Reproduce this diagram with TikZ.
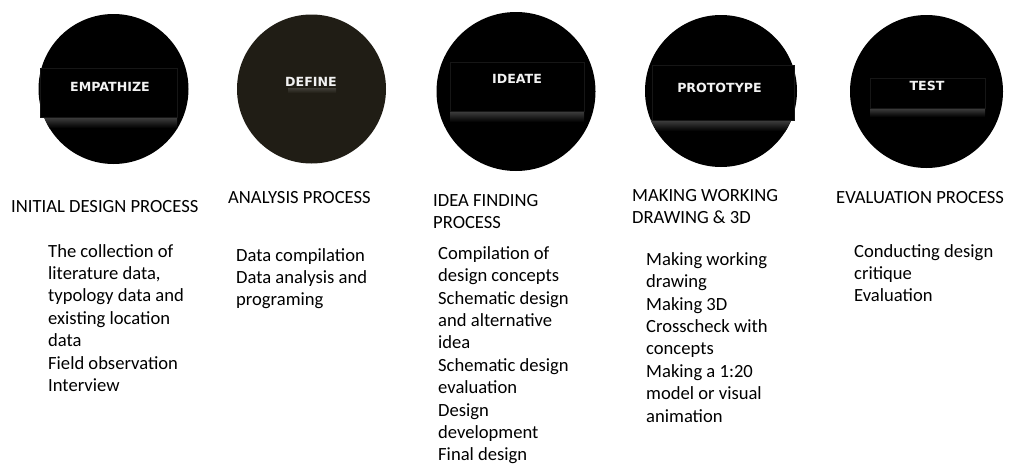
\documentclass[tikz,border=0pt]{standalone}
\usepackage{fontspec}
\setmainfont{Carlito}
\newfontfamily\labfont{DejaVu Sans}
\definecolor{defcol}{HTML}{201D15}
\definecolor{shadowgray}{HTML}{404040}
\definecolor{labwhite}{HTML}{F2F2F2}
\definecolor{edgecol}{HTML}{161616}
\begin{document}
\begin{tikzpicture}[x=1pt,y=-1pt,
  disc/.style={circle,fill=black,minimum size=#1,inner sep=0pt},
  panel/.style={rectangle,fill=black,draw=edgecol,line width=0.6pt,inner sep=0pt},
  lab/.style={text=labwhite,font=\labfont\bfseries\fontsize{12.6}{14}\selectfont,inner sep=0pt},
  txt/.style={anchor=north west,align=left,inner sep=0pt,font=\fontsize{18.6}{22.4}\selectfont}]
\useasboundingbox[fill=white] (0,0) rectangle (1009,466);

% circles
\node[disc=150pt] (c1) at (113.5,89) {};
\node[disc=149pt,fill=defcol] (c2) at (311.5,89) {};
\node[disc=159pt] (c3) at (516,91.5) {};
\node[disc=152pt] (c4) at (721,91) {};
\node[disc=153pt] (c5) at (926.5,91.5) {};

% inner panels with soft shadow
\begin{scope}
\clip (113.5,89) circle[radius=75];
\shade[top color=shadowgray,bottom color=black] (40,117) rectangle (177,128);
\end{scope}
\node[panel,minimum width=137pt,minimum height=49pt] (r1) at (108.5,92.5) {};

\begin{scope}
\clip (516,91.5) circle[radius=79.5];
\shade[top color=shadowgray,bottom color=black] (450,111) rectangle (584,122);
\end{scope}
\node[panel,minimum width=134pt,minimum height=49pt] (r3) at (517,86.5) {};

\begin{scope}
\clip (721,91) circle[radius=76];
\shade[top color=shadowgray,bottom color=black] (650,120) rectangle (797,131);
\end{scope}
\node[panel,minimum width=142pt,minimum height=55pt] (r4) at (723,92.5) {};

\begin{scope}
\clip (926.5,91.5) circle[radius=76.5];
\shade[top color=shadowgray,bottom color=black] (870,108) rectangle (985,117);
\end{scope}
\node[panel,minimum width=115pt,minimum height=30pt] (r5) at (927.5,93) {};

\shade[top color=defcol!85!white,bottom color=defcol] (288,88) rectangle (336,93);

% circle labels
\node[lab] (l1) at (110,86.5) {EMPATHIZE};
\node[lab] (l2) at (311,82) {DEFINE};
\node[lab] (l3) at (517,79) {IDEATE};
\node[lab] (l4) at (719.5,88) {PROTOTYPE};
\node[lab] (l5) at (927,86) {TEST};

% titles
\node[txt] (h1) at (11,196.2) {\strut INITIAL DESIGN PROCESS};
\node[txt] (h2) at (228,187.2) {\strut ANALYSIS PROCESS};
\node[txt] (h3) at (433,190.2) {\strut IDEA FINDING\\PROCESS};
\node[txt] (h4) at (632,185.2) {\strut MAKING WORKING\\DRAWING \& 3D};
\node[txt] (h5) at (836,187.2) {\strut EVALUATION PROCESS};

% bodies
\node[txt] (b1) at (48,241.2) {\strut The collection of\\literature data,\\typology data and\\existing location\\data\\Field observation\\Interview};
\node[txt] (b2) at (236,245.2) {\strut Data compilation\\Data analysis and\\programing};
\node[txt] (b3) at (438,243.5) {\strut Compilation of\\design concepts\\Schematic design\\and alternative\\idea\\Schematic design\\evaluation\\Design\\development\\Final design};
\node[txt] (b4) at (646,249.5) {\strut Making working\\drawing\\Making 3D\\Crosscheck with\\concepts\\Making a 1:20\\model or visual\\animation};
\node[txt] (b5) at (854,241.2) {\strut Conducting design\\critique\\Evaluation};
\end{tikzpicture}
\end{document}
